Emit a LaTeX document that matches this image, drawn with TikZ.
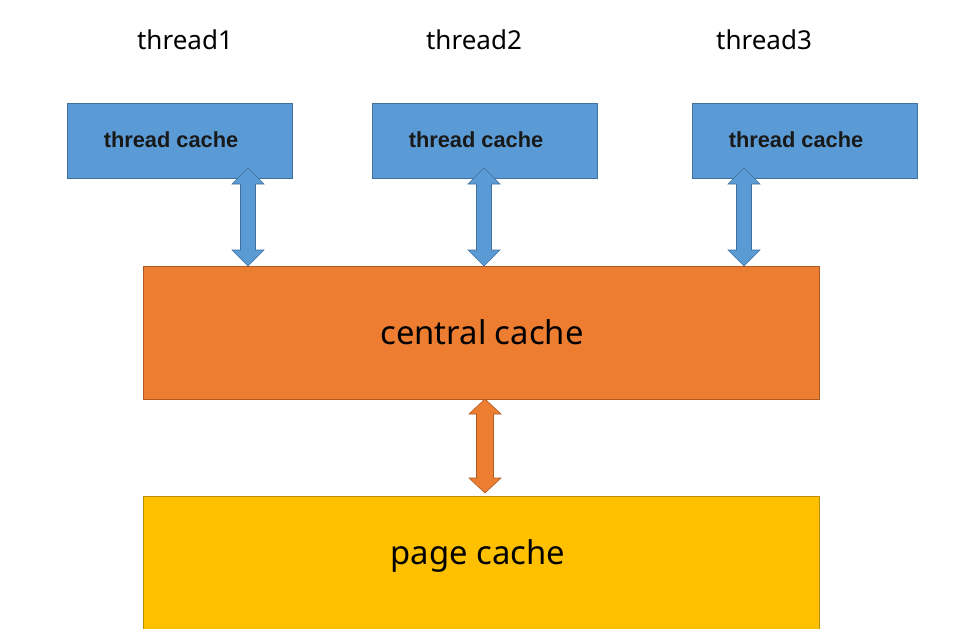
\documentclass[tikz,border=0pt]{standalone}
\usepackage{fontspec}
\setmainfont{Noto Sans}
\newfontfamily\arialbold{Liberation Sans}[BoldFont={Liberation Sans Bold}]
\definecolor{tblue}{HTML}{5B9BD5}
\definecolor{tblueline}{HTML}{41719C}
\definecolor{corange}{HTML}{ED7D31}
\definecolor{corangeline}{HTML}{AE5A21}
\definecolor{pgold}{HTML}{FFC000}
\definecolor{pgoldline}{HTML}{BC8C00}
\newcommand\mydarrow[7]{%
  % #1 x, #2 ytop, #3 ybottom, #4 half shaft, #5 half head, #6 head length, #7 style
  \draw[#7] (#1,#2) -- ({#1+#5},{#2+#6}) -- ({#1+#4},{#2+#6}) -- ({#1+#4},{#3-#6})
    -- ({#1+#5},{#3-#6}) -- (#1,#3) -- ({#1-#5},{#3-#6}) -- ({#1-#4},{#3-#6})
    -- ({#1-#4},{#2+#6}) -- ({#1-#5},{#2+#6}) -- cycle;}
\begin{document}
\begin{tikzpicture}[x=1pt,y=-1pt,
  tcbox/.style={draw=tblueline,fill=tblue,line width=0.8pt},
  ccbox/.style={draw=corangeline,fill=corange,line width=0.8pt},
  pcbox/.style={draw=pgoldline,fill=pgold,line width=0.8pt},
  tclabel/.style={font=\arialbold\bfseries\fontsize{21.8}{26}\selectfont,text=black!90},
  biglabel/.style={font=\fontsize{32.8}{38}\selectfont,text=black},
  thlabel/.style={font=\fontsize{26}{30}\selectfont,text=black},
  barrow/.style={draw=tblueline,fill=tblue,line width=0.6pt,line join=miter},
  oarrow/.style={draw=corangeline,fill=corange,line width=0.6pt,line join=miter}]
\useasboundingbox (0,0) rectangle (956,629);
\fill[white] (0,0) rectangle (956,629);
% thread labels
\node[thlabel] (th1) at (185,40) {thread1};
\node[thlabel] (th2) at (474,40) {thread2};
\node[thlabel] (th3) at (764,40) {thread3};
% thread cache boxes
\draw[tcbox] (67,103) rectangle (292,178);
\draw[tcbox] (372,103) rectangle (597,178);
\draw[tcbox] (692,103) rectangle (917,178);
\node[tclabel] (tc1) at (171,140) {thread cache};
\node[tclabel] (tc2) at (476,140) {thread cache};
\node[tclabel] (tc3) at (796,140) {thread cache};
% central cache
\draw[ccbox] (143,266) rectangle (819,399);
\node[biglabel] (cc) at (482,332) {central cache};
% page cache
\draw[pcbox] (143,496) rectangle (819,640);
\node[biglabel] (pc) at (478,556) {page cache};
% arrows
\mydarrow{248}{168}{266}{7.5}{16}{16}{barrow}
\mydarrow{484}{168}{266}{7.5}{16}{16}{barrow}
\mydarrow{744}{168}{266}{7.5}{16}{16}{barrow}
\mydarrow{485}{399}{493}{8.5}{16}{15}{oarrow}
\end{tikzpicture}
\end{document}
